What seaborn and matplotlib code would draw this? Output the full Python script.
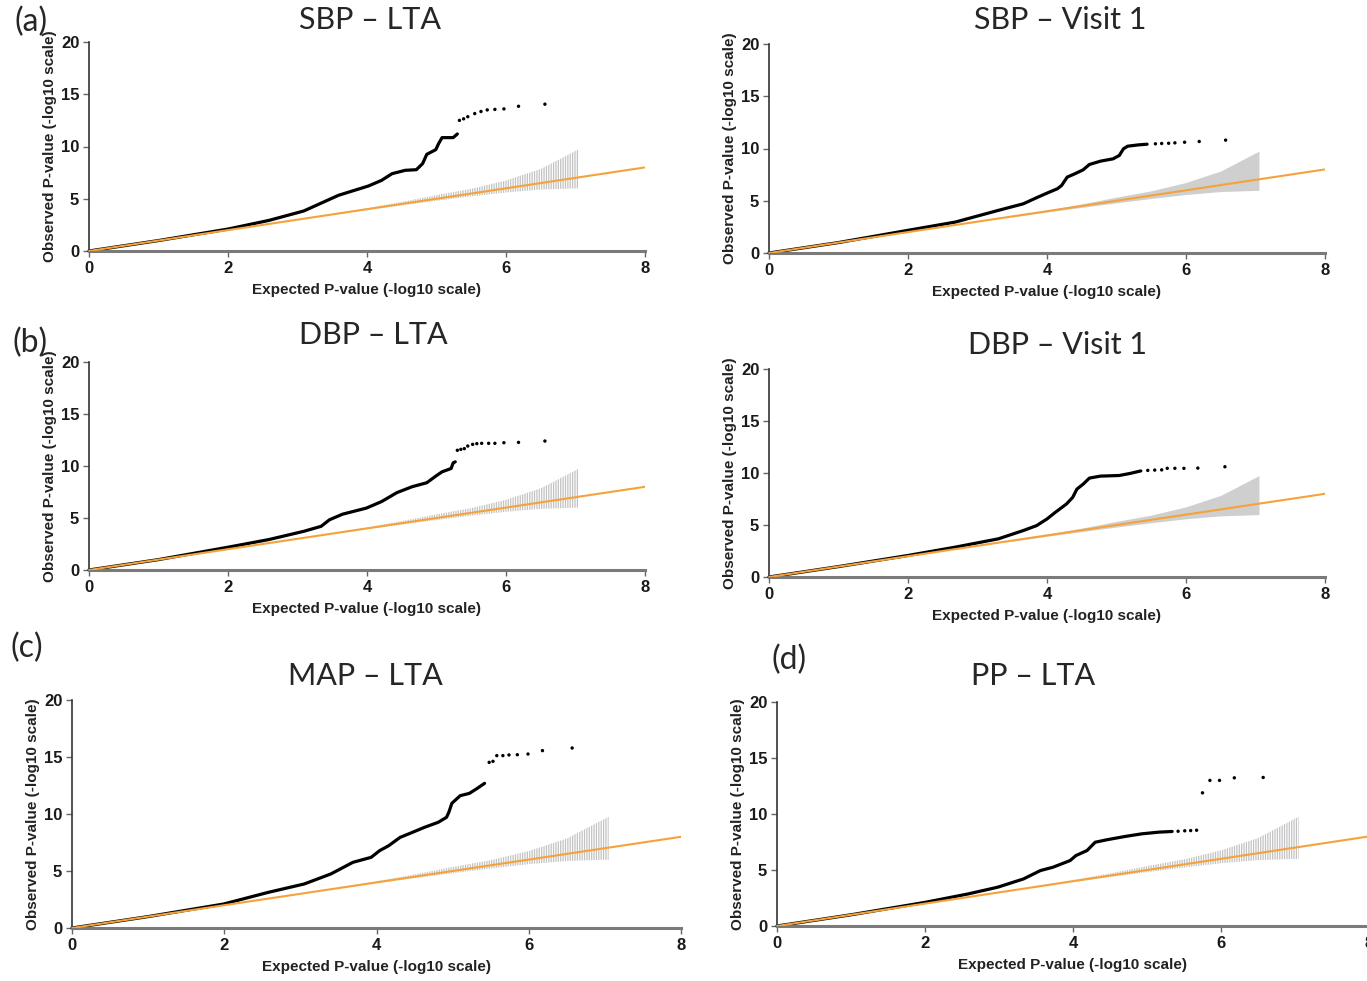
"""
QQ plots des p-values (SBP, DBP, MAP, PP)
"""
import numpy as np
import pandas as pd
import matplotlib.pyplot as plt
import seaborn as sns

sns.set_style("ticks")
plt.rcParams['font.family'] = ['Liberation Sans Narrow', 'Liberation Sans', 'DejaVu Sans']
plt.rcParams['hatch.linewidth'] = 0.9

# --- Données ---
ref_x = [0, 8]
ref_y = [0, 8]

band_x = [3.5, 4.0, 4.5, 5.0, 5.5, 6.0, 6.5, 7.05]
band_hi = [3.55, 4.1, 4.7, 5.35, 5.95, 6.75, 7.85, 9.75]
band_lo = [3.45, 3.92, 4.37, 4.8, 5.22, 5.6, 5.88, 6.0]

sbp_lta_x = [0, 1.0, 2.0, 2.59, 3.09, 3.59, 4.02, 4.21, 4.36, 4.55, 4.71, 4.8, 4.86, 4.99, 5.03, 5.08, 5.24, 5.3]
sbp_lta_y = [0, 1.0, 2.1, 2.93, 3.83, 5.33, 6.22, 6.76, 7.4, 7.72, 7.78, 8.36, 9.25, 9.7, 10.27, 10.85, 10.85, 11.2]
sbp_lta_tail_x = [5.33, 5.39, 5.45, 5.55, 5.64, 5.73, 5.84, 5.97, 6.18, 6.56]
sbp_lta_tail_y = [12.5, 12.65, 12.85, 13.15, 13.35, 13.5, 13.55, 13.6, 13.85, 14.05]

sbp_v1_x = [0, 1.0, 2.0, 2.68, 3.3, 3.66, 3.85, 4.0, 4.15, 4.21, 4.29, 4.4, 4.52, 4.61, 4.77, 4.95, 5.04, 5.1, 5.16, 5.32, 5.44]
sbp_v1_y = [0, 1.0, 2.17, 2.96, 4.08, 4.71, 5.29, 5.73, 6.15, 6.46, 7.26, 7.58, 7.96, 8.47, 8.79, 9.01, 9.33, 9.97, 10.22, 10.35, 10.41]
sbp_v1_tail_x = [5.56, 5.65, 5.75, 5.84, 5.98, 6.19, 6.57]
sbp_v1_tail_y = [10.45, 10.48, 10.5, 10.54, 10.6, 10.67, 10.8]

dbp_lta_x = [0, 1.0, 2.0, 2.59, 3.09, 3.34, 3.46, 3.65, 3.99, 4.21, 4.43, 4.65, 4.86, 4.99, 5.08, 5.21, 5.24, 5.27]
dbp_lta_y = [0, 1.0, 2.19, 2.93, 3.72, 4.2, 4.83, 5.37, 5.95, 6.58, 7.44, 8.01, 8.39, 9.03, 9.44, 9.76, 10.3, 10.4]
dbp_lta_tail_x = [5.3, 5.35, 5.4, 5.45, 5.52, 5.58, 5.65, 5.75, 5.84, 5.97, 6.18, 6.56]
dbp_lta_tail_y = [11.51, 11.6, 11.67, 11.92, 12.08, 12.15, 12.18, 12.18, 12.18, 12.24, 12.27, 12.4]

dbp_v1_x = [0, 1.0, 2.0, 2.68, 3.3, 3.66, 3.85, 4.0, 4.12, 4.28, 4.37, 4.43, 4.52, 4.61, 4.77, 5.04, 5.19, 5.35]
dbp_v1_y = [0, 1.0, 2.07, 2.87, 3.67, 4.47, 4.94, 5.58, 6.22, 7.02, 7.66, 8.45, 8.93, 9.51, 9.7, 9.76, 9.95, 10.2]
dbp_v1_tail_x = [5.45, 5.55, 5.65, 5.73, 5.84, 5.97, 6.17, 6.56]
dbp_v1_tail_y = [10.25, 10.28, 10.3, 10.45, 10.45, 10.45, 10.47, 10.6]

map_lta_x = [0, 1.0, 1.99, 2.58, 3.05, 3.4, 3.69, 3.93, 4.04, 4.16, 4.31, 4.45, 4.63, 4.81, 4.92, 4.95, 4.99, 5.1, 5.22, 5.31, 5.42]
map_lta_y = [0, 1.0, 2.1, 3.13, 3.86, 4.74, 5.76, 6.2, 6.78, 7.22, 7.95, 8.33, 8.83, 9.27, 9.71, 10.15, 10.94, 11.61, 11.81, 12.19, 12.69]
map_lta_tail_x = [5.48, 5.53, 5.58, 5.66, 5.74, 5.85, 5.99, 6.18, 6.57]
map_lta_tail_y = [14.53, 14.62, 15.12, 15.12, 15.18, 15.2, 15.26, 15.56, 15.79]

pp_lta_x = [0, 1.0, 2.01, 2.58, 2.98, 3.33, 3.56, 3.73, 3.96, 4.04, 4.19, 4.3, 4.45, 4.7, 4.93, 5.16, 5.34]
pp_lta_y = [0, 1.0, 2.12, 2.86, 3.46, 4.2, 4.95, 5.25, 5.84, 6.29, 6.74, 7.48, 7.69, 7.99, 8.23, 8.38, 8.44]
pp_lta_tail_x = [5.42, 5.51, 5.59, 5.67, 5.75, 5.85, 5.98, 6.18, 6.57]
pp_lta_tail_y = [8.46, 8.5, 8.52, 8.55, 11.89, 13.0, 13.0, 13.23, 13.26]

# --- Mise en page (pixels) ---
W, H = 1367, 981
panneaux = [
    # titre, données, bande pleine, (x0, x8, y0, y20), centre titre, lettre
    ("SBP – LTA", sbp_lta_x, sbp_lta_y, sbp_lta_tail_x, sbp_lta_tail_y, False,
     (89, 645, 251, 42), (370, 20), ("(a)", 31, 22)),
    ("SBP – Visit 1", sbp_v1_x, sbp_v1_y, sbp_v1_tail_x, sbp_v1_tail_y, True,
     (769, 1325, 253, 44), (1060, 20), None),
    ("DBP – LTA", dbp_lta_x, dbp_lta_y, dbp_lta_tail_x, dbp_lta_tail_y, False,
     (89, 645, 570, 362), (373, 335), ("(b)", 30, 343)),
    ("DBP – Visit 1", dbp_v1_x, dbp_v1_y, dbp_v1_tail_x, dbp_v1_tail_y, True,
     (769, 1325, 577, 369), (1058, 345), None),
    ("MAP – LTA", map_lta_x, map_lta_y, map_lta_tail_x, map_lta_tail_y, False,
     (72, 681, 928, 700), (365, 676), ("(c)", 27, 648)),
    ("PP – LTA", pp_lta_x, pp_lta_y, pp_lta_tail_x, pp_lta_tail_y, False,
     (777, 1369, 926, 702), (1033, 676), ("(d)", 789, 660)),
]

TITRE_FONT = ['Lato', 'DejaVu Sans']


def dessiner_qq(ax, dx, dy, tx, ty, bande_pleine):
    # Bande de confiance
    if bande_pleine:
        ax.fill_between(band_x, band_lo, band_hi, color='#cfcfcf', lw=0, zorder=1)
    else:
        ax.fill_between(band_x, band_lo, band_hi, facecolor='none',
                        edgecolor='#c2c2c2', hatch='|||||||', lw=0, zorder=1)

    # Points observés (partie dense + queue)
    sns.lineplot(x=dx, y=dy, ax=ax, color='black', lw=2.3, sort=False,
                 zorder=2, clip_on=False)
    sns.scatterplot(x=tx, y=ty, ax=ax, color='black', s=6, edgecolor='none',
                    zorder=3, clip_on=False)

    # Diagonale attendue
    sns.lineplot(x=ref_x, y=ref_y, ax=ax, color='#F5A23A', lw=1.5, zorder=4)

    ax.set_xlim(0, 8)
    ax.set_ylim(0, 20)
    ax.set_xticks([0, 2, 4, 6, 8])
    ax.set_yticks([0, 5, 10, 15, 20])
    sns.despine(ax=ax)
    ax.spines['left'].set_color('#333333')
    ax.spines['left'].set_linewidth(1.2)
    ax.spines['bottom'].set_color('#7a7a7a')
    ax.spines['bottom'].set_linewidth(2.2)
    ax.tick_params(length=4, width=1, colors='#666666', labelcolor='#1a1a1a',
                   labelsize=12, pad=3)
    for lbl in ax.get_xticklabels() + ax.get_yticklabels():
        lbl.set_fontweight('bold')
    ax.set_xlabel("Expected P-value (-log10 scale)", fontsize=11,
                  fontweight='bold', color='#222222', labelpad=5)
    ax.set_ylabel("Observed P-value (-log10 scale)", fontsize=11,
                  fontweight='bold', color='#222222', labelpad=3)


fig = plt.figure(figsize=(W / 100, H / 100), dpi=100)

for titre, dx, dy, tx, ty, pleine, (x0, x8, y0, y20), (cx, cy), lettre in panneaux:
    ax = fig.add_axes([x0 / W, 1 - y0 / H, (x8 - x0) / W, (y0 - y20) / H])
    dessiner_qq(ax, dx, dy, tx, ty, pleine)
    fig.text(cx / W, 1 - cy / H, titre, ha='center', va='center',
             fontsize=22, family=TITRE_FONT)
    if lettre:
        fig.text(lettre[1] / W, 1 - lettre[2] / H, lettre[0], ha='center',
                 va='center', fontsize=23, family=TITRE_FONT)

fig.savefig("out.png", dpi=100)
